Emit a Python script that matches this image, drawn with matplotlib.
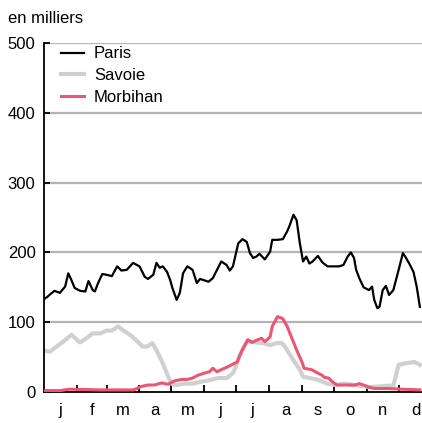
import matplotlib
matplotlib.use("Agg")
from matplotlib import pyplot as plt
import numpy as np

# days of year (0 = 1 Jan) and values, in thousands
paris_days = [0, 3, 6, 10, 15, 20, 23, 26, 29, 34, 39, 42, 46, 48, 51, 55, 59, 64, 69, 73,
              78, 84, 90, 95, 98, 103, 106, 109, 112, 116, 119, 121, 125, 128, 131, 135, 140,
              144, 147, 151, 155, 159, 163, 167, 172, 175, 178, 183, 187, 191, 194, 197, 200,
              203, 208, 213, 215, 220, 225, 229, 231, 235, 238, 241, 244, 247, 250, 253, 258,
              262, 267, 271, 278, 282, 286, 289, 292, 294, 297, 301, 306, 309, 311, 314, 316,
              319, 322, 325, 329, 334, 338, 341, 344, 348, 351, 354]
paris = [133, 136, 140, 145, 142, 151, 170, 160, 149, 145, 144, 159, 146, 144, 156, 169, 168,
         166, 180, 174, 175, 185, 180, 165, 162, 168, 185, 178, 180, 172, 160, 149, 132, 142,
         170, 180, 175, 156, 162, 160, 158, 163, 175, 187, 182, 174, 180, 213, 219, 215, 199,
         192, 194, 198, 190, 201, 218, 218, 219, 230, 237, 254, 246, 213, 187, 194, 184, 187,
         195, 186, 180, 180, 180, 182, 194, 200, 192, 175, 163, 150, 146, 151, 132, 120, 122,
         146, 152, 139, 146, 175, 199, 192, 184, 172, 151, 122]

savoie_days = [0, 6, 12, 18, 26, 34, 40, 46, 53, 59, 64, 70, 74, 81, 87, 93, 97, 102, 106,
               112, 117, 120, 125, 133, 140, 149, 156, 164, 172, 178, 180, 184, 191, 196, 200,
               206, 213, 219, 224, 227, 231, 236, 241, 244, 250, 257, 262, 267, 274, 283, 297,
               307, 325, 329, 334, 340, 349, 354]
savoie = [59, 58, 65, 72, 82, 71, 77, 84, 84, 88, 88, 94, 89, 82, 74, 65, 65, 70, 60, 41, 22,
          12, 10, 12, 12, 15, 17, 20, 20, 27, 34, 51, 72, 72, 71, 70, 67, 70, 70, 65, 55, 43,
          32, 22, 20, 18, 15, 12, 10, 12, 9, 7, 9, 9, 39, 41, 43, 39]

morbihan_days = [0, 15, 24, 53, 84, 86, 92, 98, 104, 111, 117, 123, 130, 135, 140, 145, 151,
                 156, 159, 163, 167, 173, 178, 182, 186, 192, 196, 200, 205, 208, 213, 215,
                 220, 225, 229, 233, 238, 243, 245, 252, 258, 262, 264, 268, 273, 276, 283,
                 293, 297, 301, 306, 311, 325, 337, 354]
morbihan = [2, 2, 4, 3, 3, 4, 8, 10, 10, 13, 11, 16, 18, 18, 20, 24, 27, 29, 34, 29, 32, 36,
            40, 43, 58, 75, 71, 74, 77, 72, 79, 94, 108, 105, 94, 79, 60, 43, 34, 32, 27, 24,
            21, 20, 13, 10, 10, 10, 12, 10, 7, 5, 5, 4, 3]

month_starts = [31, 59, 90, 120, 151, 181, 212, 243, 273, 304, 334]
month_mids = [15.5, 45, 74.5, 105, 135.5, 166, 196.5, 227.5, 258, 288.5, 319, 350]
month_labels = ["j", "f", "m", "a", "m", "j", "j", "a", "s", "o", "n", "d"]

plt.rcParams["font.family"] = ["Liberation Sans", "DejaVu Sans"]

fig = plt.figure(figsize=(4.22, 4.23), dpi=100)
ax = fig.add_axes([0.104, 0.0733, 0.896, 0.825])

for y in [100, 200, 300, 400, 500]:
    ax.axhline(y, color="#b4b4b4", lw=1.6, zorder=1)

ax.plot(savoie_days, savoie, color="#d0d0d0", lw=3.0, label="Savoie", zorder=2)
ax.plot(paris_days, paris, color="black", lw=1.6, label="Paris", zorder=3)
ax.plot(morbihan_days, morbihan, color="#ec5673", lw=2.2, label="Morbihan", zorder=4)

ax.set_xlim(0, 356)
ax.set_ylim(0, 500)

for side in ["top", "right"]:
    ax.spines[side].set_visible(False)
ax.spines["left"].set_linewidth(1.3)
ax.spines["bottom"].set_linewidth(1.3)

ax.set_yticks([0, 100, 200, 300, 400, 500])
ax.tick_params(axis="y", direction="in", length=4, width=1.3, labelsize=12, pad=6)

ax.set_xticks(month_starts)
ax.set_xticklabels([])
ax.set_xticks(month_mids, minor=True)
ax.set_xticklabels(month_labels, minor=True)
ax.tick_params(axis="x", which="major", direction="in", length=5, width=1.3)
ax.tick_params(axis="x", which="minor", length=0, labelsize=12, pad=8)

handles, labels = ax.get_legend_handles_labels()
order = [1, 0, 2]
ax.legend([handles[i] for i in order], [labels[i] for i in order],
          loc="upper left", frameon=False, fontsize=12, handlelength=1.4,
          handletextpad=0.6, labelspacing=0.4, borderaxespad=0, borderpad=0.1,
          bbox_to_anchor=(0.04, 0.995))

fig.text(0.02, 0.957, "en milliers", fontsize=12, va="center", ha="left")

fig.savefig("out.png", dpi=100)
